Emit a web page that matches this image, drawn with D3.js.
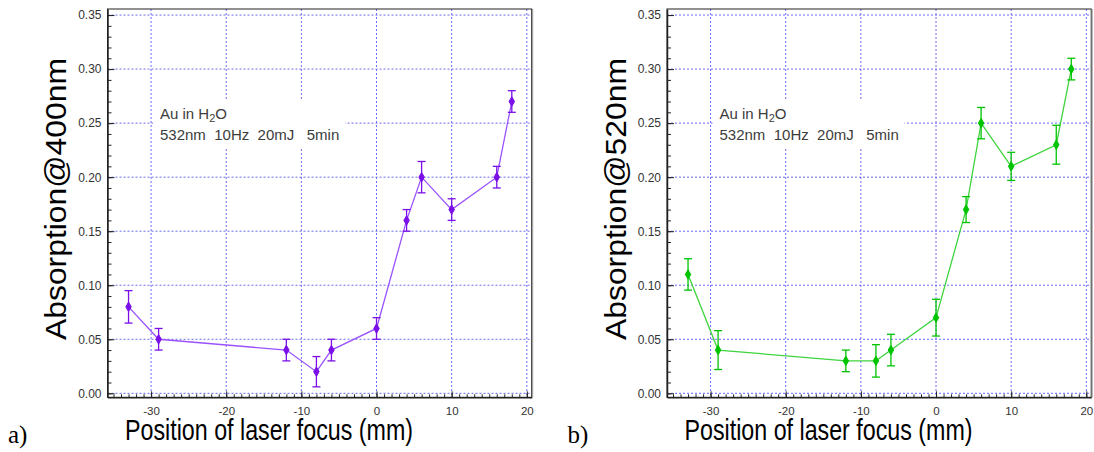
<!DOCTYPE html>
<html><head><meta charset="utf-8">
<script src="https://cdn.jsdelivr.net/npm/d3@7"></script>
<style>body{margin:0;background:#fff}svg{display:block}</style>
</head><body>
<svg id="c" width="1094" height="452"></svg>
<script>
const positions = [-33, -29, -12, -8, -6, 0, 4, 6, 10, 16, 18];
const abs400 = [0.08, 0.05, 0.04, 0.02, 0.04, 0.06, 0.16, 0.20, 0.17, 0.20, 0.27];
const err400 = [0.015, 0.01, 0.01, 0.014, 0.01, 0.01, 0.01, 0.0145, 0.01, 0.01, 0.01];
const abs520 = [0.11, 0.04, 0.03, 0.03, 0.04, 0.07, 0.17, 0.25, 0.21, 0.23, 0.30];
const err520 = [0.0145, 0.018, 0.01, 0.015, 0.0146, 0.017, 0.012, 0.0145, 0.013, 0.018, 0.01];
const xTicks = [-30, -20, -10, 0, 10, 20];
const xTickLabels = ["-30", "-20", "-10", "0", "10", "20"];
const yTicks = [0, 0.05, 0.10, 0.15, 0.20, 0.25, 0.30, 0.35];
const yTickLabels = ["0.00", "0.05", "0.10", "0.15", "0.20", "0.25", "0.30", "0.35"];
const xTitle = "Position of laser focus (mm)";
const yTitles = ["Absorption@400nm", "Absorption@520nm"];
const panelLetters = ["a)", "b)"];
const noteLine2 = "532nm\u00a0\u00a010Hz\u00a0\u00a020mJ\u00a0\u00a0\u00a05min";

const svg = d3.select("#c");
const x = d3.scaleLinear().domain([-35.8, 20.65]).range([107.5, 531.7]);
const y = d3.scaleLinear().domain([-0.0037, 0.3556]).range([397.3, 9]);
const [X0, X1] = x.range(), [Y0, Y1] = y.range();
const gridColor = "#6b6bf5";

const panels = [
  {dx: 0, vals: abs400, errs: err400, mark: "#7a0fe8", line: "#9a52ff", title: yTitles[0], letter: panelLetters[0]},
  {dx: 559.5, vals: abs520, errs: err520, mark: "#00c400", line: "#3fd43f", title: yTitles[1], letter: panelLetters[1]}
];

panels.forEach(p => {
  const g = svg.append("g").attr("transform", `translate(${p.dx},0)`);
  // grid
  g.append("g").selectAll("line").data(xTicks).join("line")
    .attr("x1", d => x(d)).attr("x2", d => x(d)).attr("y1", Y1).attr("y2", Y0)
    .attr("stroke", gridColor).attr("stroke-dasharray", "2,2").attr("stroke-width", 1);
  g.append("g").selectAll("line").data(yTicks).join("line")
    .attr("x1", X0).attr("x2", X1).attr("y1", d => y(d)).attr("y2", d => y(d))
    .attr("stroke", gridColor).attr("stroke-dasharray", "2,2").attr("stroke-width", 1);
  // note box
  g.append("rect").attr("x", 153).attr("y", 100).attr("width", 192).attr("height", 47).attr("fill", "#fff");
  const note = g.append("text").attr("x", 160).attr("y", 119)
    .attr("font-family", "Liberation Sans, Arial, sans-serif").attr("font-size", 15).attr("fill", "#3c3c3c");
  note.append("tspan").text("Au in H");
  note.append("tspan").text("2").attr("font-size", 11).attr("dy", 3);
  note.append("tspan").text("O").attr("dy", -3);
  g.append("text").attr("x", 160).attr("y", 140)
    .attr("font-family", "Liberation Sans, Arial, sans-serif").attr("font-size", 15).attr("fill", "#3c3c3c")
    .text(noteLine2);

  // frame
  g.append("rect").attr("x", X0).attr("y", Y1).attr("width", X1 - X0).attr("height", Y0 - Y1)
    .attr("fill", "none").attr("stroke", "#222").attr("stroke-width", 1);
  g.append("line").attr("x1", X1 + 1).attr("x2", X1 + 1).attr("y1", Y1).attr("y2", Y0).attr("stroke", "#999");

  // x axis minor ticks
  const xMinor = d3.range(-35, 21, 1);
  const xa = d3.axisBottom(x).tickValues(xMinor).tickSizeInner(-3).tickSizeOuter(0).tickFormat("");
  g.append("g").attr("transform", `translate(0,${Y0})`).call(xa)
    .call(s => s.select(".domain").remove()).selectAll("line").attr("stroke", "#222");
  const xM = d3.axisBottom(x).tickValues(xTicks).tickSizeInner(-6).tickSizeOuter(0)
    .tickPadding(9.5).tickFormat((d, i) => xTickLabels[i]);
  const gx = g.append("g").attr("transform", `translate(0,${Y0})`).call(xM);
  gx.select(".domain").attr("stroke", "#222").attr("stroke-width", 1.5);
  gx.selectAll("line").attr("stroke", "#222");
  gx.selectAll("text").attr("font-family", "Liberation Sans, Arial, sans-serif").attr("font-size", 11.5).attr("fill", "#333");

  // y axis
  const yMinor = d3.range(0, 0.3501, 0.01);
  const ya = d3.axisLeft(y).tickValues(yMinor).tickSizeInner(-4).tickSizeOuter(0).tickFormat("");
  g.append("g").attr("transform", `translate(${X0},0)`).call(ya)
    .call(s => s.select(".domain").remove()).selectAll("line").attr("stroke", "#222");
  const yM = d3.axisLeft(y).tickValues(yTicks).tickSizeInner(-7).tickSizeOuter(0)
    .tickPadding(6).tickFormat((d, i) => yTickLabels[i]);
  const gy = g.append("g").attr("transform", `translate(${X0},0)`).call(yM);
  gy.select(".domain").attr("stroke", "#222").attr("stroke-width", 1.5);
  gy.selectAll("line").attr("stroke", "#222");
  gy.selectAll("text").attr("font-family", "Liberation Sans, Arial, sans-serif").attr("font-size", 12).attr("fill", "#333");

  // data
  const pts = positions.map((d, i) => ({x: d, v: p.vals[i], e: p.errs[i]}));
  g.append("path").datum(pts)
    .attr("d", d3.line().x(d => x(d.x)).y(d => y(d.v)))
    .attr("fill", "none").attr("stroke", p.line).attr("stroke-width", 1.3);
  const eb = g.append("g").attr("stroke", p.mark).attr("stroke-width", 1.3);
  eb.selectAll(".v").data(pts).join("line").attr("class", "v")
    .attr("x1", d => x(d.x)).attr("x2", d => x(d.x)).attr("y1", d => y(d.v - d.e)).attr("y2", d => y(d.v + d.e));
  eb.selectAll(".t").data(pts).join("line").attr("class", "t")
    .attr("x1", d => x(d.x) - 4).attr("x2", d => x(d.x) + 4).attr("y1", d => y(d.v + d.e)).attr("y2", d => y(d.v + d.e));
  eb.selectAll(".b").data(pts).join("line").attr("class", "b")
    .attr("x1", d => x(d.x) - 4).attr("x2", d => x(d.x) + 4).attr("y1", d => y(d.v - d.e)).attr("y2", d => y(d.v - d.e));
  g.append("g").selectAll("path").data(pts).join("path")
    .attr("d", d3.symbol(d3.symbolDiamond, 26))
    .attr("transform", d => `translate(${x(d.x)},${y(d.v)})`)
    .attr("fill", p.mark).attr("stroke", p.mark).attr("stroke-width", 1);

  // titles
  g.append("text").attr("x", 269).attr("y", 440).attr("text-anchor", "middle")
    .attr("font-family", "Liberation Sans, Arial, sans-serif").attr("font-size", 30)
    .attr("textLength", 288).attr("lengthAdjust", "spacingAndGlyphs").attr("fill", "#000").text(xTitle);
  g.append("text").attr("transform", "translate(66,199) rotate(-90)").attr("text-anchor", "middle")
    .attr("font-family", "Liberation Sans, Arial, sans-serif").attr("font-size", 30)
    .attr("textLength", 282).attr("lengthAdjust", "spacingAndGlyphs").attr("fill", "#000").text(p.title);
  g.append("text").attr("x", 8).attr("y", 443)
    .attr("font-family", "Liberation Serif, Times New Roman, serif").attr("font-size", 25).attr("fill", "#000").text(p.letter);
});
</script>
</body></html>
